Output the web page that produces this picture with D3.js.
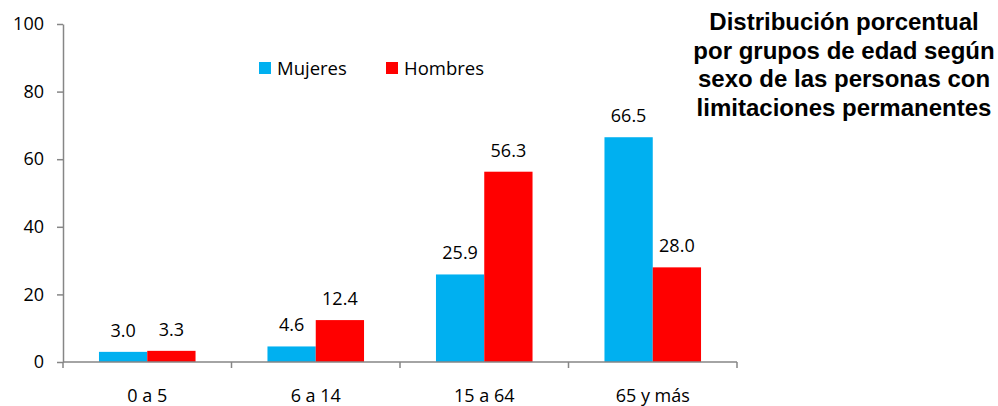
<!DOCTYPE html>
<html>
<head>
<meta charset="utf-8">
<script src="https://cdn.jsdelivr.net/npm/d3@7"></script>
<style>
  body { margin: 0; background: #fff; }
  svg { display: block; }
  .axis text { font-family: 'Open Sans', sans-serif; font-size: 18px; fill: #000; }
  .axis path, .axis line { stroke: #868686; stroke-width: 1.5px; }
  .bar-label { font-family: 'Open Sans', sans-serif; font-size: 18px; fill: #000; }
  .legend-text { font-family: 'Open Sans', sans-serif; font-size: 18.5px; fill: #000; }
  .chart-title { font-family: 'Liberation Sans', Arial, sans-serif; font-size: 24px; font-weight: bold; fill: #000; }
</style>
</head>
<body>
<div id="chart"></div>
<script>
const categories = ['0 a 5', '6 a 14', '15 a 64', '65 y más'];
const seriesNames = ['Mujeres', 'Hombres'];
const mujeres = [3.0, 4.6, 25.9, 66.5];
const hombres = [3.3, 12.4, 56.3, 28.0];
const yTicks = [0, 20, 40, 60, 80, 100];
const titleLines = [
  'Distribución porcentual',
  'por grupos de edad según',
  'sexo de las personas con',
  'limitaciones permanentes',
];
const colors = { Mujeres: '#00b0f0', Hombres: '#ff0000' };

const width = 998;
const height = 406;
const margin = { top: 24, right: 261, bottom: 44, left: 63 };
const innerW = width - margin.left - margin.right;
const innerH = height - margin.top - margin.bottom;

const data = categories.map((c, i) => ({
  category: c,
  values: [
    { series: 'Mujeres', value: mujeres[i] },
    { series: 'Hombres', value: hombres[i] },
  ],
}));

const svg = d3.select('#chart')
  .append('svg')
  .attr('width', width)
  .attr('height', height);

const chart = svg.append('g')
  .attr('transform', `translate(${margin.left},${margin.top})`);

const x0 = d3.scaleBand()
  .domain(categories)
  .range([0, innerW])
  .padding(0);

const x1 = d3.scaleBand()
  .domain(seriesNames)
  .range([0, x0.bandwidth()])
  .paddingInner(0)
  .paddingOuter(0.745);

const y = d3.scaleLinear()
  .domain([0, 100])
  .range([innerH, 0]);

// y axis
chart.append('g')
  .attr('class', 'axis axis-y')
  .call(d3.axisLeft(y).tickValues(yTicks).tickSize(6).tickPadding(13).tickSizeOuter(0));

// bars
const groups = chart.selectAll('.group')
  .data(data)
  .join('g')
  .attr('class', 'group')
  .attr('transform', (d) => `translate(${x0(d.category)},0)`);

groups.selectAll('rect')
  .data((d) => d.values)
  .join('rect')
  .attr('x', (d) => x1(d.series))
  .attr('y', (d) => y(d.value))
  .attr('width', x1.bandwidth())
  .attr('height', (d) => innerH - y(d.value))
  .attr('fill', (d) => colors[d.series]);

groups.selectAll('.bar-label')
  .data((d) => d.values)
  .join('text')
  .attr('class', 'bar-label')
  .attr('x', (d) => x1(d.series) + x1.bandwidth() / 2)
  .attr('y', (d) => y(d.value) - 15)
  .attr('text-anchor', 'middle')
  .text((d) => d3.format('.1f')(d.value));

// x axis with ticks at category boundaries
const xAxis = chart.append('g')
  .attr('class', 'axis axis-x')
  .attr('transform', `translate(0,${innerH})`);

xAxis.append('line')
  .attr('x1', 0)
  .attr('x2', innerW)
  .attr('y1', 0)
  .attr('y2', 0);

xAxis.selectAll('.tick-mark')
  .data(categories.concat(['end']))
  .join('line')
  .attr('class', 'tick-mark')
  .attr('x1', (d, i) => (i < categories.length ? x0(d) : innerW))
  .attr('x2', (d, i) => (i < categories.length ? x0(d) : innerW))
  .attr('y1', 0)
  .attr('y2', 6);

xAxis.selectAll('.cat-label')
  .data(categories)
  .join('text')
  .attr('class', 'cat-label')
  .attr('x', (d) => x0(d) + x0.bandwidth() / 2)
  .attr('y', 40)
  .attr('text-anchor', 'middle')
  .text((d) => d);

// legend
const legend = svg.append('g').attr('class', 'legend');
const legendX = [259, 386];
seriesNames.forEach((s, i) => {
  legend.append('rect')
    .attr('x', legendX[i])
    .attr('y', 62)
    .attr('width', 12)
    .attr('height', 12)
    .attr('fill', colors[s]);
  legend.append('text')
    .attr('class', 'legend-text')
    .attr('x', legendX[i] + 18)
    .attr('y', 75)
    .text(s);
});

// title
svg.append('text')
  .attr('class', 'chart-title')
  .attr('text-anchor', 'middle')
  .selectAll('tspan')
  .data(titleLines)
  .join('tspan')
  .attr('x', 844)
  .attr('y', (d, i) => 30 + i * 28.5)
  .text((d) => d);
</script>
</body>
</html>
